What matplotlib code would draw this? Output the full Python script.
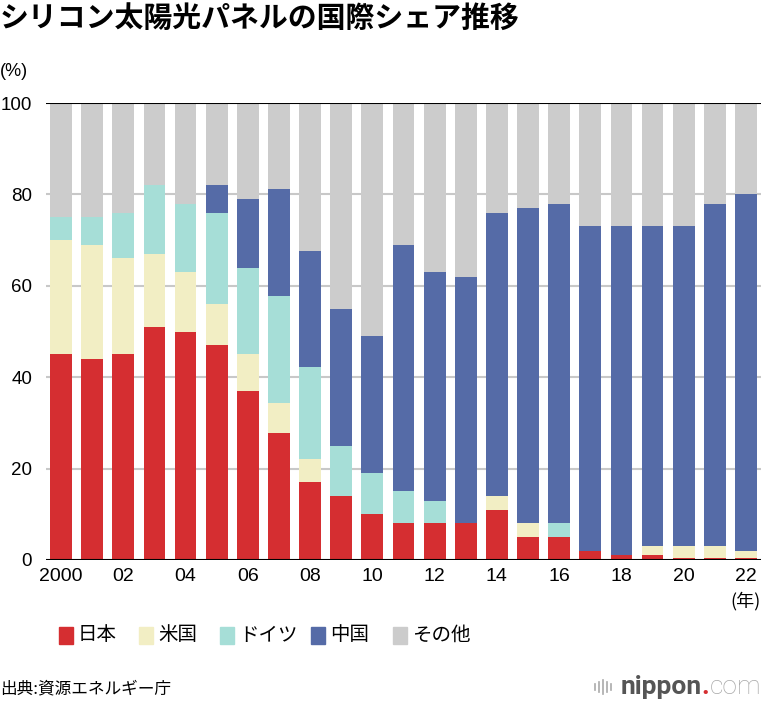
import matplotlib
matplotlib.use('Agg')
import matplotlib.pyplot as plt
from matplotlib.patches import Rectangle
import numpy as np

plt.rcParams['font.family'] = ['Liberation Sans', 'Noto Sans CJK JP', 'DejaVu Sans']

# データ (2000-2022年, %)
years = list(range(2000, 2023))
japan   = [45, 44, 45, 51, 50, 47, 37, 27.7, 17.1, 14, 10, 8, 8, 8, 11, 5, 5, 2, 1, 1, 0.5, 0.5, 0.5]
usa     = [25, 25, 21, 16, 13, 9, 8, 6.6, 5, 0, 0, 0, 0, 0, 3, 3, 0, 0, 0, 2, 2.5, 2.5, 1.5]
germany = [5, 6, 10, 15, 15, 20, 19, 23.4, 20.2, 11, 9, 7, 5, 0, 0, 0, 3, 0, 0, 0, 0, 0, 0]
china   = [0, 0, 0, 0, 0, 6, 15, 23.4, 25.4, 30, 30, 54, 50, 54, 62, 69, 70, 71, 72, 70, 70, 75, 78]
other   = [25, 25, 24, 18, 22, 18, 21, 18.9, 32.3, 45, 51, 31, 37, 38, 24, 23, 22, 27, 27, 27, 27, 22, 20]

labels = ['日本', '米国', 'ドイツ', '中国', 'その他']
colors = ['#d52e31', '#f2eec4', '#a6ded7', '#556ba7', '#cccccc']
tick_labels = ['2000', '02', '04', '06', '08', '10', '12', '14', '16', '18', '20', '22']

fig = plt.figure(figsize=(7.61, 7.02), dpi=100)
ax = fig.add_axes([46 / 761, 1 - 560 / 702, 715 / 761, 457 / 702])

x = np.arange(len(years))
bottom = np.zeros(len(years))
for vals, c, lab in zip([japan, usa, germany, china, other], colors, labels):
    ax.bar(x, vals, width=0.7, bottom=bottom, color=c, label=lab, zorder=2)
    bottom += np.array(vals)

ax.set_xlim(-0.482, 22.482)
ax.set_ylim(0, 100)
for v in [20, 40, 60, 80]:
    ax.axhline(v, color='#c8c8c8', lw=1.5, zorder=1)
ax.axhline(100, color='black', lw=1.5, zorder=3)
ax.axhline(0, color='black', lw=1.5, zorder=3)
for s in ax.spines.values():
    s.set_visible(False)

ax.set_yticks([0, 20, 40, 60, 80, 100])
ax.set_xticks(x[::2])
ax.set_xticklabels(tick_labels)
ax.tick_params(axis='y', length=0, pad=10, labelsize=13.5)
ax.tick_params(axis='x', length=0, pad=6, labelsize=14)

fig.text(0.0, 1 - 18 / 702, 'シリコン太陽光パネルの国際シェア推移', fontsize=20.8,
         fontweight='bold', family=['Noto Sans CJK JP'], va='center', ha='left')
fig.text(0.0, 1 - 72 / 702, '(%)', fontsize=13, va='center', ha='left')
fig.text(1.0, 1 - 601 / 702, '(年)', fontsize=13, va='center', ha='right',
         family=['Noto Sans CJK JP'])

# 凡例
leg_x = [59, 139, 220, 311, 393]
for lx, c, lab in zip(leg_x, colors, labels):
    fig.patches.append(Rectangle((lx / 761, 1 - 644 / 702), 14 / 761, 17 / 702,
                                 transform=fig.transFigure, color=c))
    fig.text((lx + 19) / 761, 1 - 635 / 702, lab, fontsize=14, va='center', ha='left',
             family=['Noto Sans CJK JP'])

fig.text(0.0, 1 - 689 / 702, '出典:資源エネルギー庁', fontsize=12, va='center', ha='left',
         family=['Noto Sans CJK JP'])

# nippon.com ロゴ
r = fig.canvas.get_renderer()
t3 = fig.text(1.0, 1 - 687 / 702, 'com', fontsize=19, color='#a8a8a8', va='center',
              ha='right', family=['Roboto'], fontweight='light')
bb = t3.get_window_extent(r)
t2 = fig.text(bb.x0 / 761, 1 - 687 / 702, '.', fontsize=19, color='#d52e31', va='center',
              ha='right', family=['Roboto'], fontweight='bold')
bb = t2.get_window_extent(r)
t1 = fig.text(bb.x0 / 761, 1 - 687 / 702, 'nippon', fontsize=19, color='#555555',
              va='center', ha='right', family=['Roboto'], fontweight='bold')
bb = t1.get_window_extent(r)
hs = [6, 10, 14, 10, 6]
for i, h in enumerate(hs):
    xx = (bb.x0 - 26 + i * 4) / 761
    fig.add_artist(plt.Line2D([xx, xx], [1 - (687 + h / 2) / 702, 1 - (687 - h / 2) / 702],
                              transform=fig.transFigure, color='#aaaaaa', lw=1.2))

fig.savefig('out.png', dpi=100)
